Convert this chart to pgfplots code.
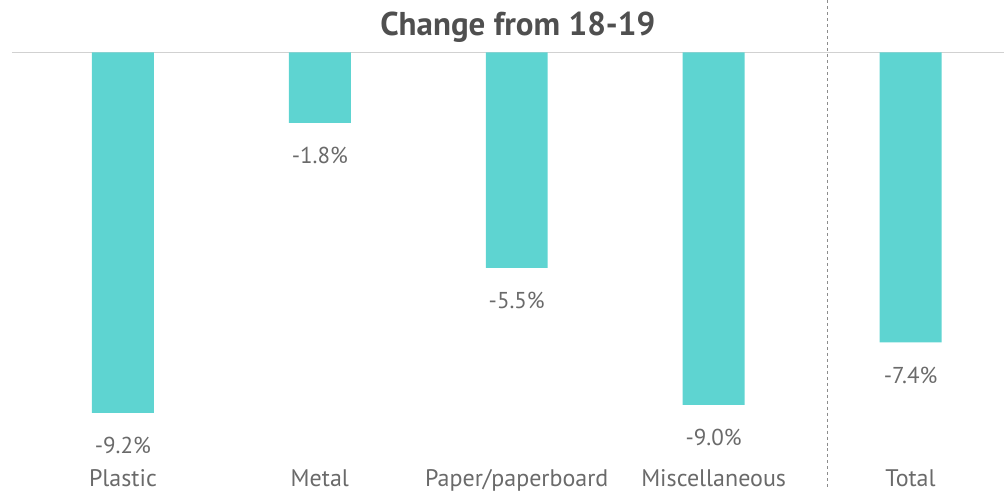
\documentclass[border=0pt]{standalone}
\usepackage{pgfplots}
\pgfplotsset{compat=1.18}
\usepackage{fontspec}
\setmainfont{PT Sans}
\definecolor{barc}{HTML}{5ED4D1}
\definecolor{txt}{HTML}{6A6A6A}
\definecolor{ttl}{HTML}{4F4F4F}
\begin{document}
\begin{tikzpicture}
\begin{axis}[
  scale only axis, width=1004bp, height=490bp,
  xmin=-0.62437, xmax=4.47208,
  ymin=-11.1735, ymax=1.32653,
  hide axis, clip=false,
  ybar, bar width=62bp, bar shift=0pt,
  point meta=explicit symbolic,
  nodes near coords,
  every node near coord/.append style={anchor=base, yshift=-41bp, text=txt, font=\fontsize{23bp}{27bp}\selectfont},
]
\draw[color=black!18, line width=1bp] (axis cs:-0.5635,0) -- (axis cs:4.47208,0);
\draw[color=black!45, dashed, line width=0.8bp] (axis cs:3.5787,1.32653) -- (axis cs:3.5787,-11.1735);
\addplot[fill=barc, draw=none] coordinates {(0,-9.2) [-9.2\%] (1,-1.8) [-1.8\%] (2,-5.5) [-5.5\%] (3,-9.0) [-9.0\%] (4,-7.4) [-7.4\%]};
\path (rel axis cs:0,0) rectangle (rel axis cs:1,1);
\node[anchor=base, text=ttl, font=\bfseries\fontsize{33bp}{37bp}\selectfont] at (axis cs:2.0051,0.434) {Change from 18-19};
\node[anchor=base, text=txt, font=\fontsize{24bp}{28bp}\selectfont] at (axis cs:0,-11.07) {Plastic};
\node[anchor=base, text=txt, font=\fontsize{24bp}{28bp}\selectfont] at (axis cs:1,-11.07) {Metal};
\node[anchor=base, text=txt, font=\fontsize{24bp}{28bp}\selectfont] at (axis cs:2,-11.07) {Paper/paperboard};
\node[anchor=base, text=txt, font=\fontsize{24bp}{28bp}\selectfont] at (axis cs:3,-11.07) {Miscellaneous};
\node[anchor=base, text=txt, font=\fontsize{24bp}{28bp}\selectfont] at (axis cs:4,-11.07) {Total};
\end{axis}
\end{tikzpicture}
\end{document}
